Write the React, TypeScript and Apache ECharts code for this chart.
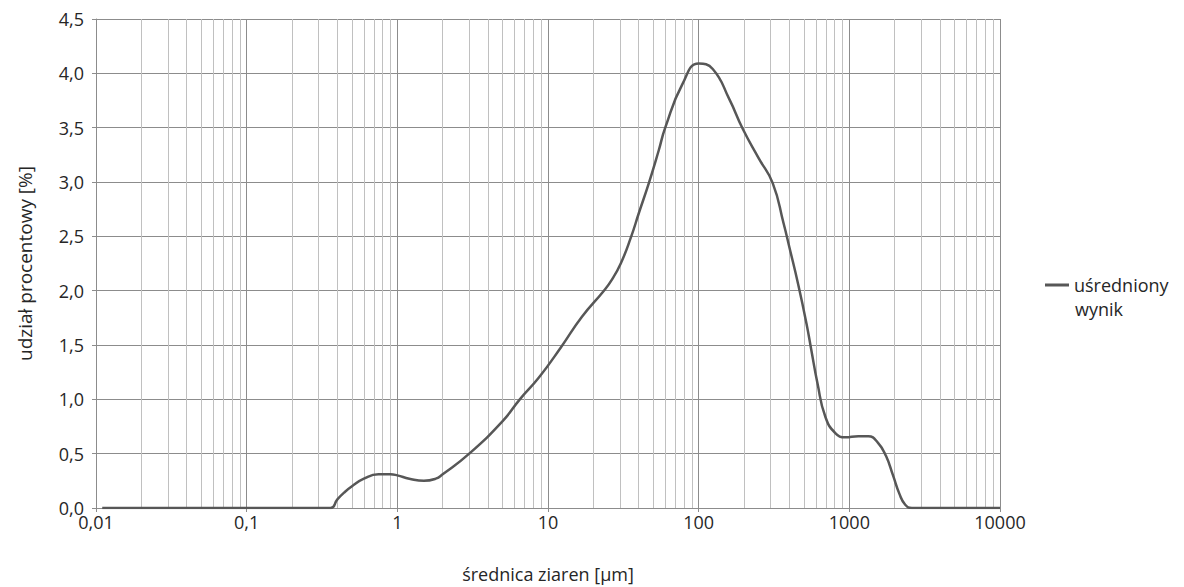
import React, { useEffect, useRef } from "react";
import * as echarts from "echarts";

const sizes: number[] = [0.011, 0.1, 0.36, 0.4, 0.45, 0.5, 0.6, 0.75, 0.9, 1.0, 1.2, 1.5, 1.8, 2.0, 3.0, 5.0, 6.5, 8.7, 12.2, 16.8, 23.5, 26.5, 30.4, 35.5, 40, 46.7, 54.3, 60, 78, 100, 124, 160, 196, 250, 310, 366, 400, 459, 519, 560, 614, 693, 807, 941, 1148, 1337, 1550, 1750, 1950, 2150, 2350, 2600, 10000];
const shares: number[] = [0, 0, 0, 0.08, 0.15, 0.2, 0.27, 0.31, 0.31, 0.30, 0.27, 0.25, 0.27, 0.31, 0.50, 0.80, 1.00, 1.20, 1.48, 1.76, 2.00, 2.10, 2.25, 2.49, 2.71, 2.99, 3.29, 3.50, 3.90, 4.09, 4.04, 3.76, 3.49, 3.22, 2.99, 2.62, 2.40, 2.05, 1.70, 1.45, 1.15, 0.84, 0.69, 0.65, 0.66, 0.66, 0.60, 0.48, 0.30, 0.13, 0.03, 0, 0];
const decades: number[] = [0.01, 0.1, 1, 10, 100, 1000];
const minorSteps: number[] = [2, 3, 4, 5, 6, 7, 8, 9];
const seriesName = "uśredniony wynik";
const legendLine1 = "uśredniony";
const legendLine2 = "wynik";

const FONT = "'Open Sans', sans-serif";
const TXT = "#262626";

export default function App() {
  const ref = useRef<HTMLDivElement>(null);
  useEffect(() => {
    if (!ref.current) return;
    document.body.style.margin = "0";
    const chart = echarts.init(ref.current, undefined, { renderer: "svg" });
    const minorLines: { xAxis: number }[] = [];
    decades.forEach((d) => minorSteps.forEach((m) => minorLines.push({ xAxis: +(d * m).toPrecision(3) })));
    chart.setOption({
      animation: false,
      backgroundColor: "#ffffff",
      textStyle: { fontFamily: FONT },
      grid: { left: 96, right: 184, top: 19, bottom: 79, containLabel: false, outerBoundsMode: "none" },
      legend: {
        show: true,
        data: [seriesName],
        formatter: () => legendLine1,
        left: 1040,
        top: 270,
        orient: "vertical",
        icon: "rect",
        itemWidth: 24,
        itemHeight: 3,
        textStyle: { color: TXT, fontSize: 18, fontFamily: FONT, lineHeight: 20 },
      },
      graphic: [
        {
          type: "text",
          left: 1075,
          top: 300,
          style: { text: legendLine2, fill: TXT, fontSize: 18, fontFamily: FONT },
        },
      ],
      xAxis: {
        type: "log",
        logBase: 10,
        min: 0.01,
        max: 10000,
        name: "średnica ziaren [µm]",
        nameLocation: "middle",
        nameGap: 56,
        nameTextStyle: { color: TXT, fontSize: 18, fontFamily: FONT, lineHeight: 20 },
        axisLine: { show: true, lineStyle: { color: "#8c8c8c", width: 1 } },
        axisTick: { show: true, length: 4, lineStyle: { color: "#8c8c8c" } },
        axisLabel: {
          color: TXT,
          fontSize: 18,
          fontFamily: FONT,
          margin: 5,
          formatter: (v: number) => String(+v.toPrecision(6)).replace(".", ","),
        },
        splitLine: { show: true, lineStyle: { color: "#8c8c8c", width: 1 } },
        minorTick: { show: false },
        minorSplitLine: { show: false },
      },
      yAxis: {
        type: "value",
        min: 0,
        max: 4.5,
        interval: 0.5,
        name: "udział procentowy [%]",
        nameLocation: "middle",
        nameGap: 62,
        nameTextStyle: { color: TXT, fontSize: 19, fontFamily: FONT },
        axisLine: { show: true, lineStyle: { color: "#8c8c8c", width: 1 } },
        axisTick: { show: true, length: 4, lineStyle: { color: "#8c8c8c" } },
        axisLabel: {
          color: TXT,
          fontSize: 18,
          fontFamily: FONT,
          margin: 12,
          formatter: (v: number) => v.toFixed(1).replace(".", ","),
        },
        splitLine: { show: true, lineStyle: { color: "#8c8c8c", width: 1 } },
      },
      series: [
        {
          name: "minor",
          type: "line",
          data: [],
          silent: true,
          markLine: {
            silent: true,
            symbol: "none",
            label: { show: false },
            lineStyle: { color: "#c0c0c0", width: 1, type: "solid" },
            data: minorLines,
          },
        },
        {
          name: seriesName,
          type: "line",
          data: sizes.map((s, i) => [s, shares[i]]),
          smooth: 0.5,
          showSymbol: false,
          symbol: "none",
          lineStyle: { color: "#575757", width: 2.5 },
          itemStyle: { color: "#575757" },
          z: 5,
        },
      ],
    });
    return () => chart.dispose();
  }, []);
  return <div ref={ref} style={{ width: 1184, height: 587 }} />;
}
